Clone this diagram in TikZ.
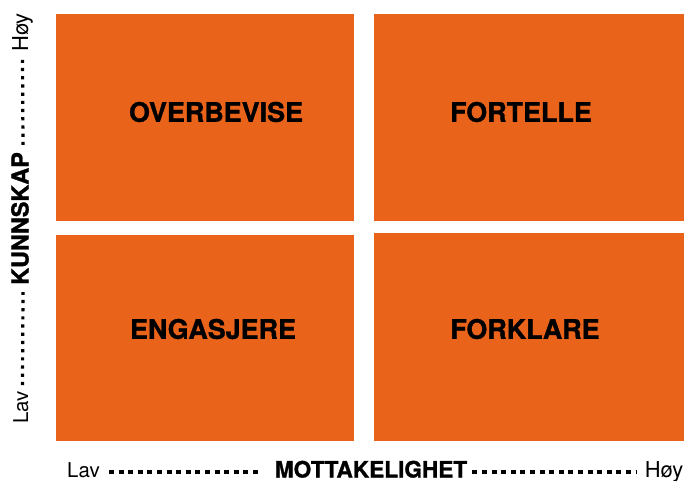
\documentclass[tikz,border=0pt]{standalone}
\usepackage{fontspec}
\setmainfont{TeX Gyre Heros}
\newfontfamily\heavyfont{TeX Gyre Heros}[BoldFeatures={FakeBold=1.2}]
\usetikzlibrary{calc}
\definecolor{quadorange}{RGB}{233,99,26}
\tikzset{
  quad/.style={fill=quadorange, draw=none, inner sep=0pt, anchor=north west},
  quadlabel/.style={inner sep=0pt, font=\fontsize{27}{31}\heavyfont\bfseries, text=black},
  axisword/.style={inner sep=0pt, font=\fontsize{20.5}{24}\selectfont},
  axistitle/.style={inner sep=0pt, font=\fontsize{22.7}{26}\heavyfont\bfseries},
  hdots/.style={line width=3.2bp, dash pattern=on 5bp off 4.6bp},
  vdots/.style={line width=3.2bp, dash pattern=on 3.2bp off 5bp},
}
\begin{document}
\begin{tikzpicture}[x=1bp, y=-1bp]
\useasboundingbox (0,0) rectangle (684,481);

% four quadrants
\node[quad, minimum width=298bp, minimum height=207bp] (tl) at (56,14) {};
\node[quad, minimum width=310bp, minimum height=207bp] (tr) at (374,14) {};
\node[quad, minimum width=298bp, minimum height=206bp] (bl) at (56,235) {};
\node[quad, minimum width=310bp, minimum height=208bp] (br) at (374,233) {};

\node[quadlabel] (overbevise) at (216,112) {OVERBEVISE};
\node[quadlabel] (fortelle)   at (521,112) {FORTELLE};
\node[quadlabel] (engasjere)  at (213,329) {ENGASJERE};
\node[quadlabel] (forklare)   at (525,329) {FORKLARE};

% horizontal axis
\node[axisword, anchor=base west] (xlav) at (67,477.5) {Lav};
\node[axistitle, anchor=base] (xtitle) at (371,477.5) {MOTTAKELIGHET};
\node[axisword, font=\fontsize{22}{26}\selectfont, anchor=base east] (xhoy) at (683.5,477.5) {Høy};
\draw[hdots] ($(xlav.base east)+(9,-5.5)$) -- ($(xtitle.base west)+(-17,-5.5)$);
\draw[hdots] ($(xtitle.base east)+(5,-5.5)$) -- ($(xhoy.base west)+(-8,-5.5)$);

% vertical axis
\node[axisword, rotate=90, anchor=base west] (ylav) at (28,424) {Lav};
\node[axistitle, font=\fontsize{23.5}{27}\heavyfont\bfseries, rotate=90, anchor=base] (ytitle) at (28.5,218.5) {KUNNSKAP};
\node[axisword, font=\fontsize{22}{26}\selectfont, rotate=90, anchor=base east] (yhoy) at (28,13) {Høy};
\draw[vdots] ($(ylav.base east)+(-5.5,-6)$) -- ($(ytitle.base west)+(-5.5,7)$);
\draw[vdots] ($(ytitle.base east)+(-5.5,-7)$) -- ($(yhoy.base west)+(-5.5,6)$);
\end{tikzpicture}
\end{document}
